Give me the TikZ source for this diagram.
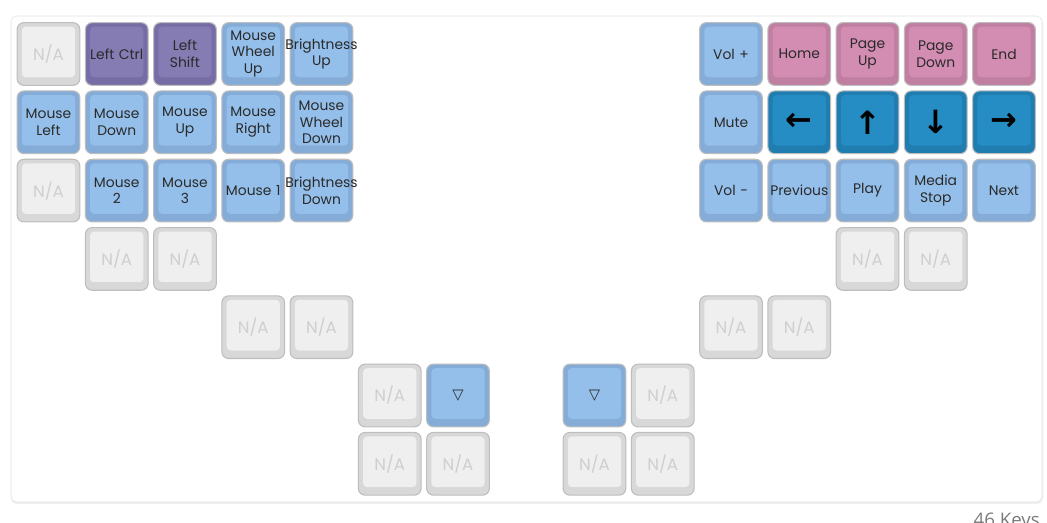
\documentclass[tikz,border=0pt]{standalone}
\usepackage{fontspec}
\setmainfont{Poppins}
\newfontfamily\symfont{DejaVu Sans}
\newfontfamily\countfont{Open Sans}
\definecolor{keyEdge}{HTML}{BDBDBD}
\definecolor{keyText}{HTML}{2A2A2A}
\definecolor{naShell}{HTML}{D8D8D8}
\definecolor{naFace}{HTML}{EFEFEF}
\definecolor{naText}{HTML}{CFCFCF}
\definecolor{blueShell}{HTML}{84ACD7}
\definecolor{blueFace}{HTML}{94BFEA}
\definecolor{purpleShell}{HTML}{766DA6}
\definecolor{purpleFace}{HTML}{857CB3}
\definecolor{pinkShell}{HTML}{C07EA1}
\definecolor{pinkFace}{HTML}{D38CB2}
\definecolor{darkShell}{HTML}{1F7DB0}
\definecolor{darkFace}{HTML}{258DC4}
\definecolor{panelEdge}{HTML}{E2E2E2}
\definecolor{countText}{HTML}{7A7A7A}
\tikzset{
  key/.style 2 args={draw=keyEdge, line width=0.8pt, fill=#1, rounded corners=5pt,
    minimum width=47pt, minimum height=47pt, text width=47pt, inner sep=0pt,
    align=center, text=keyText, font=\fontsize{10.4pt}{12.5pt}\selectfont,
    path picture={\fill[#2, rounded corners=3pt]
      ([xshift=3.5pt,yshift=-3pt]path picture bounding box.north west) rectangle
      ([xshift=-3.5pt,yshift=6pt]path picture bounding box.south east);}},
  na/.style={key={naShell}{naFace}, text=naText, font=\fontsize{12.5pt}{14pt}\selectfont},
  bluekey/.style={key={blueShell}{blueFace}},
  purplekey/.style={key={purpleShell}{purpleFace}},
  pinkkey/.style={key={pinkShell}{pinkFace}},
  arrowkey/.style={key={darkShell}{darkFace}, text=black, font=\symfont\bfseries\fontsize{24pt}{24pt}\selectfont},
}
\begin{document}
\begin{tikzpicture}[x=0.75pt, y=-0.75pt]
\useasboundingbox (0,0) rectangle (1047,523);
\fill[black!6, rounded corners=4] (11,17) rectangle (1043,504);
\draw[panelEdge, fill=white, rounded corners=4] (11,16) rectangle (1042,502);

% left half
\node[na] (l11) at (48.5,54){N/A};
\node[purplekey] (l12) at (116.75,54){Left Ctrl};
\node[purplekey] (l13) at (185,54){Left\\Shift};
\node[bluekey] (l14) at (253.25,54){Mouse\\Wheel\\Up};
\node[bluekey] (l15) at (321.5,54){\makebox[0pt]{Brightness}\\Up};
\node[bluekey] (l21) at (48.5,122.3){Mouse\\Left};
\node[bluekey] (l22) at (116.75,122.3){Mouse\\Down};
\node[bluekey] (l23) at (185,122.3){Mouse\\Up};
\node[bluekey] (l24) at (253.25,122.3){Mouse\\Right};
\node[bluekey] (l25) at (321.5,122.3){Mouse\\Wheel\\Down};
\node[na] (l31) at (48.5,190.6){N/A};
\node[bluekey] (l32) at (116.75,190.6){Mouse\\2};
\node[bluekey] (l33) at (185,190.6){Mouse\\3};
\node[bluekey] (l34) at (253.25,190.6){\makebox[0pt]{Mouse 1}};
\node[bluekey] (l35) at (321.5,190.6){\makebox[0pt]{Brightness}\\Down};
\node[na] (l42) at (116.75,258.9){N/A};
\node[na] (l43) at (185,258.9){N/A};
\node[na] (l54) at (253.25,327.2){N/A};
\node[na] (l55) at (321.5,327.2){N/A};
\node[na] (l66) at (389.75,395.5){N/A};
\node[bluekey, font=\symfont\fontsize{11pt}{12pt}\selectfont] (l67) at (458,395.5){▽};
\node[na] (l76) at (389.75,463.8){N/A};
\node[na] (l77) at (458,463.8){N/A};

% right half
\node[bluekey] (r11) at (731,54){Vol +};
\node[pinkkey] (r12) at (799.25,54){Home};
\node[pinkkey] (r13) at (867.5,54){Page\\Up};
\node[pinkkey] (r14) at (935.75,54){Page\\Down};
\node[pinkkey] (r15) at (1004,54){End};
\node[bluekey] (r21) at (731,122.3){Mute};
\node[arrowkey] (r22) at (799.25,122.3){←};
\node[arrowkey] (r23) at (867.5,122.3){↑};
\node[arrowkey] (r24) at (935.75,122.3){↓};
\node[arrowkey] (r25) at (1004,122.3){→};
\node[bluekey] (r31) at (731,190.6){Vol -};
\node[bluekey] (r32) at (799.25,190.6){\makebox[0pt]{Previous}};
\node[bluekey] (r33) at (867.5,190.6){Play};
\node[bluekey] (r34) at (935.75,190.6){Media\\Stop};
\node[bluekey] (r35) at (1004,190.6){Next};
\node[na] (r43) at (867.5,258.9){N/A};
\node[na] (r44) at (935.75,258.9){N/A};
\node[na] (r51) at (731,327.2){N/A};
\node[na] (r52) at (799.25,327.2){N/A};
\node[bluekey, font=\symfont\fontsize{11pt}{12pt}\selectfont] (r66) at (594.5,395.5){▽};
\node[na] (r67) at (662.75,395.5){N/A};
\node[na] (r76) at (594.5,463.8){N/A};
\node[na] (r77) at (662.75,463.8){N/A};

\node[anchor=base east, text=countText, font=\countfont\fontsize{14pt}{14pt}\selectfont, inner sep=0pt] (count) at (1040,527){46 Keys};
\end{tikzpicture}
\end{document}
